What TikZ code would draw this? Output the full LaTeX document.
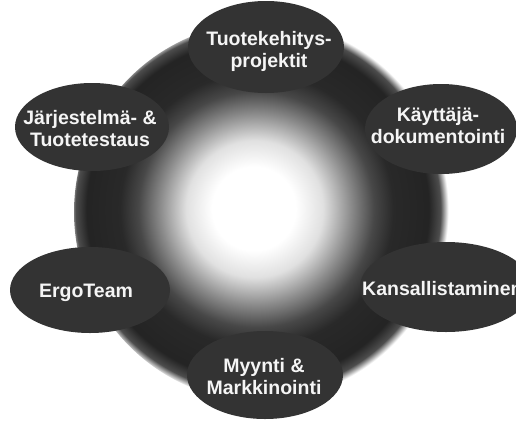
\documentclass[tikz,border=0pt]{standalone}
\usepackage{fontspec}
\setmainfont{Liberation Sans}
\usetikzlibrary{shapes.geometric}
\pgfdeclareradialshading{glow}{\pgfpoint{-1.5bp}{0.5bp}}{%
  color(0bp)=(white);
  color(5.5bp)=(white);
  color(9bp)=(black!12);
  color(12.5bp)=(black!45);
  color(15.5bp)=(black!72);
  color(18bp)=(black!84);
  color(22.5bp)=(black!86);
  color(24bp)=(black!70);
  color(25bp)=(white);
  color(50bp)=(white)}
\tikzset{
  blob/.style={ellipse, fill=black!80, draw=none, inner sep=0pt},
  lbl/.style={text=black!4, font=\bfseries\fontsize{19.5}{22}\selectfont, align=center, inner sep=0pt}
}
\begin{document}
\begin{tikzpicture}[x=1pt,y=1pt]
  \fill[white] (0,0) rectangle (516,-421);
  \useasboundingbox (0,0) rectangle (516,-421);
  \clip (0,0) rectangle (516,-421);
  \shade[shading=glow] (264,-212) circle (190);
  % ellipses
  \node[blob, minimum width=156pt, minimum height=92pt] (e1) at (266,-47) {};
  \node[blob, minimum width=152pt, minimum height=90pt] (e2) at (441,-129) {};
  \node[blob, minimum width=154pt, minimum height=88pt] (e3) at (92,-127) {};
  \node[blob, minimum width=160pt, minimum height=86pt] (e4) at (90,-290) {};
  \node[blob, minimum width=172pt, minimum height=90pt] (e5) at (446,-287) {};
  \node[blob, minimum width=156pt, minimum height=88pt] (e6) at (265,-375) {};
  % labels
  \node[lbl] (t1) at (269,-51) {Tuotekehitys-\\projektit};
  \node[lbl] (t2) at (438,-126) {Käyttäjä-\\dokumentointi};
  \node[lbl] (t3) at (90,-129) {Järjestelmä- \&\\Tuotetestaus};
  \node[lbl, anchor=base] (t4) at (86,-297) {ErgoTeam};
  \node[lbl, anchor=base west] (t5) at (362,-295) {Kansallistaminen};
  \node[lbl] (t6) at (264,-377) {Myynti \&\\Markkinointi};
\end{tikzpicture}
\end{document}
